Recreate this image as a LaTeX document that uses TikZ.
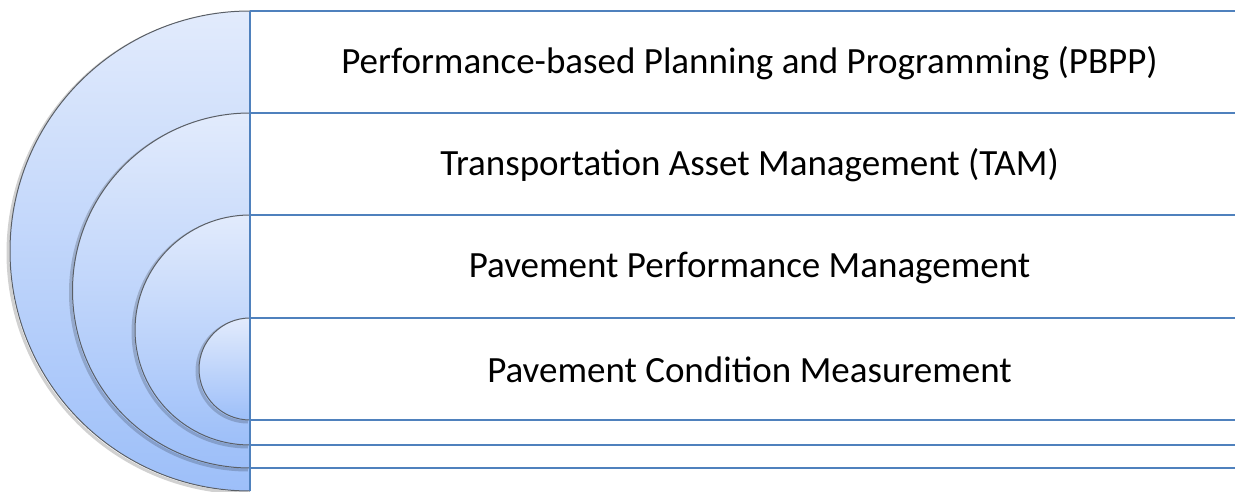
\documentclass[tikz,border=0pt]{standalone}
\usepackage{fontspec}
\setmainfont{Carlito}
\usetikzlibrary{positioning}
\definecolor{bandblue}{HTML}{4F81BD}
\definecolor{ringtop}{HTML}{E2EBFC}
\definecolor{ringbot}{HTML}{9DBFF9}
\definecolor{ringedge}{HTML}{5A5F66}
\tikzset{
    ring/.style = {top color=ringtop, bottom color=ringbot},
    ringline/.style = {draw=ringedge, line width=1pt},
    ringshadow/.style = {draw=black, opacity=0.18, line width=3pt},
    band/.style = {draw=bandblue, line width=1.8pt},
    level/.style = {font=\fontsize{37}{44}\selectfont, inner sep=0pt}
}
% one half disc: #1 = top y, #2 = radius
\newcommand{\halfring}[2]{%
    \draw[ringshadow] (248,#1-2) arc (90:270:#2);
    \shade[ring] (250,#1) arc (90:270:#2) -- cycle;
    \draw[ringline] (250,#1) arc (90:270:#2);
}

\begin{document}
\begin{tikzpicture}[x=1pt, y=1pt]
    \useasboundingbox (0,0) rectangle (1235,491);

    \halfring{480}{240}
    \halfring{378}{177.5}
    \halfring{276}{115}
    \halfring{173}{51}

    % bands
    \draw[band] (250,0) -- (250,480);
    \draw[band] (250,480) -- (1235,480);
    \draw[band] (250,378) -- (1235,378);
    \draw[band] (250,276) -- (1235,276);
    \draw[band] (250,173) -- (1235,173);
    \draw[band] (250,71) -- (1235,71);
    \draw[band] (250,46) -- (1235,46);
    \draw[band] (250,23) -- (1235,23);

    \node[level] (pbpp) at (749.5,428) {Performance-based Planning and Programming (PBPP)};
    \node[level] (tam) at (749.5,326) {Transportation Asset Management (TAM)};
    \node[level] (ppm) at (749.5,223.5) {Pavement Performance Management};
    \node[level] (pcm) at (749.5,121) {Pavement Condition Measurement};
\end{tikzpicture}
\end{document}
